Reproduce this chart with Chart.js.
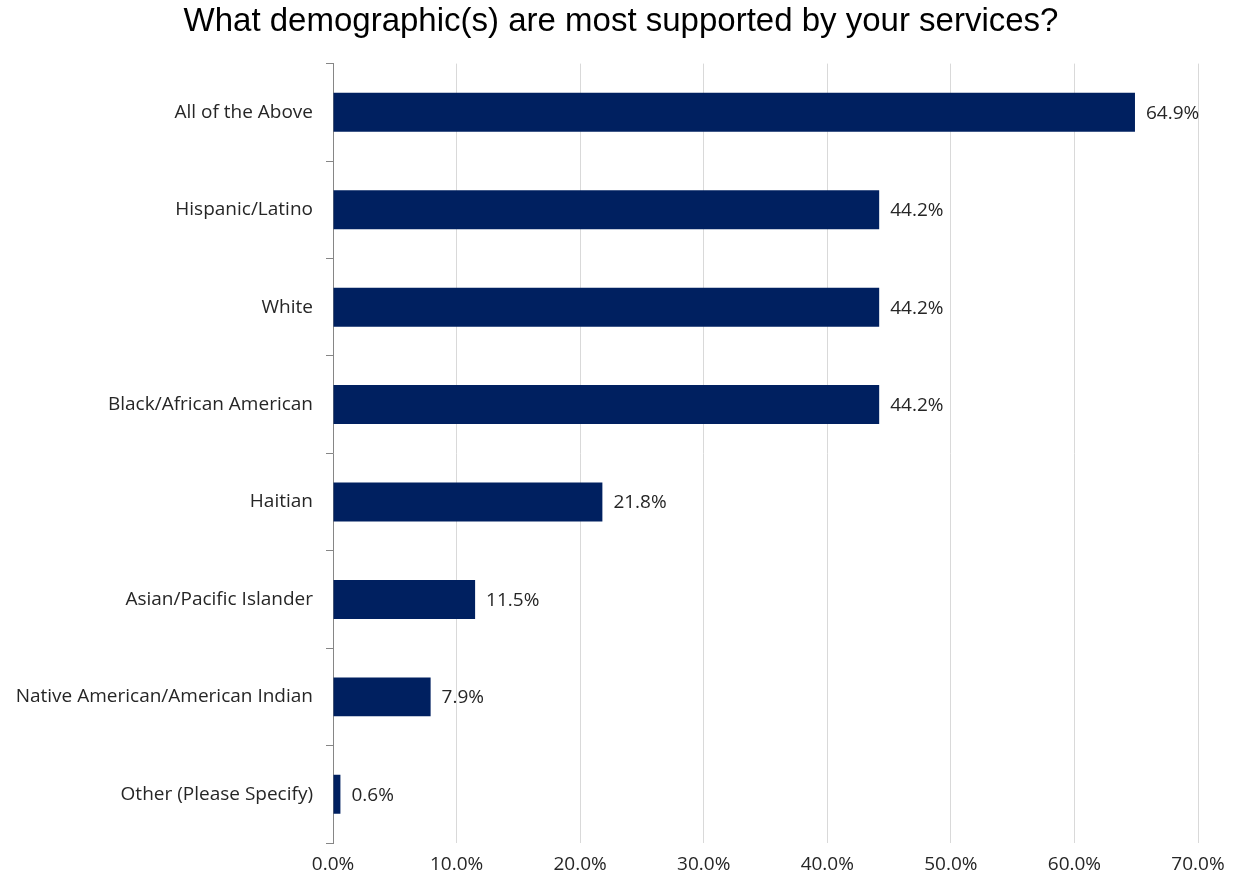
<!DOCTYPE html>
<html>
<head>
<meta charset="utf-8">
<script src="https://cdn.jsdelivr.net/npm/chart.js@4/dist/chart.umd.min.js"></script>
<style>
html,body{margin:0;padding:0;background:#fff;}
#wrap{width:1235px;height:886px;position:relative;}
</style>
</head>
<body>
<div id="wrap"><canvas id="c" width="1235" height="886"></canvas></div>
<script>
const titleText = "What demographic(s) are most supported by your services?";
const categories = [
  "All of the Above",
  "Hispanic/Latino",
  "White",
  "Black/African American",
  "Haitian",
  "Asian/Pacific Islander",
  "Native American/American Indian",
  "Other (Please Specify)"
];
const values = [64.9, 44.2, 44.2, 44.2, 21.8, 11.5, 7.9, 0.6];
const xTicks = [0, 10, 20, 30, 40, 50, 60, 70];

const labelFont = {family: "'Open Sans', 'Noto Sans', sans-serif", size: 19};
const textColor = '#262626';

const dataLabels = {
  id: 'dataLabels',
  afterDatasetsDraw(chart) {
    const ctx = chart.ctx;
    const meta = chart.getDatasetMeta(0);
    ctx.save();
    ctx.font = `${labelFont.size}px ${labelFont.family}`;
    ctx.fillStyle = textColor;
    ctx.textAlign = 'left';
    ctx.textBaseline = 'middle';
    meta.data.forEach((bar, i) => {
      ctx.fillText(values[i].toFixed(1) + '%', bar.x + 11, bar.y + 1);
    });
    ctx.restore();
  }
};

// center the title over the whole canvas rather than the padded box
const titleShift = {
  id: 'titleShift',
  afterLayout(chart) {
    if (chart.titleBlock) {
      chart.titleBlock.left = 44;
    }
  }
};

new Chart(document.getElementById('c'), {
  type: 'bar',
  data: {
    labels: categories,
    datasets: [{
      data: values,
      backgroundColor: '#002060',
      borderWidth: 0,
      barPercentage: 0.4,
      categoryPercentage: 1.0
    }]
  },
  options: {
    indexAxis: 'y',
    responsive: false,
    animation: false,
    layout: {padding: {left: 0, right: 37, top: 0, bottom: 0}},
    plugins: {
      legend: {display: false},
      tooltip: {enabled: false},
      title: {
        display: true,
        text: titleText,
        color: '#000000',
        font: {family: "'Liberation Sans', Arial, sans-serif", size: 33, weight: 'normal'},
        padding: {top: 2, bottom: 22}
      }
    },
    scales: {
      x: {
        min: 0,
        max: 70,
        afterBuildTicks(axis) { axis.ticks = xTicks.map(v => ({value: v})); },
        afterFit(axis) { axis.height = 43; },
        ticks: {
          color: textColor,
          font: labelFont,
          padding: 10,
          callback: (v) => Number(v).toFixed(1) + '%'
        },
        grid: {color: '#d9d9d9', lineWidth: 1, drawTicks: false},
        border: {display: false}
      },
      y: {
        afterFit(axis) { axis.width = 333; },
        ticks: {color: textColor, font: labelFont, padding: 13},
        grid: {drawOnChartArea: false, drawTicks: true, tickLength: 7, color: '#868686', offset: true},
        border: {display: true, color: '#868686', width: 1}
      }
    }
  },
  plugins: [dataLabels, titleShift]
});
</script>
</body>
</html>
